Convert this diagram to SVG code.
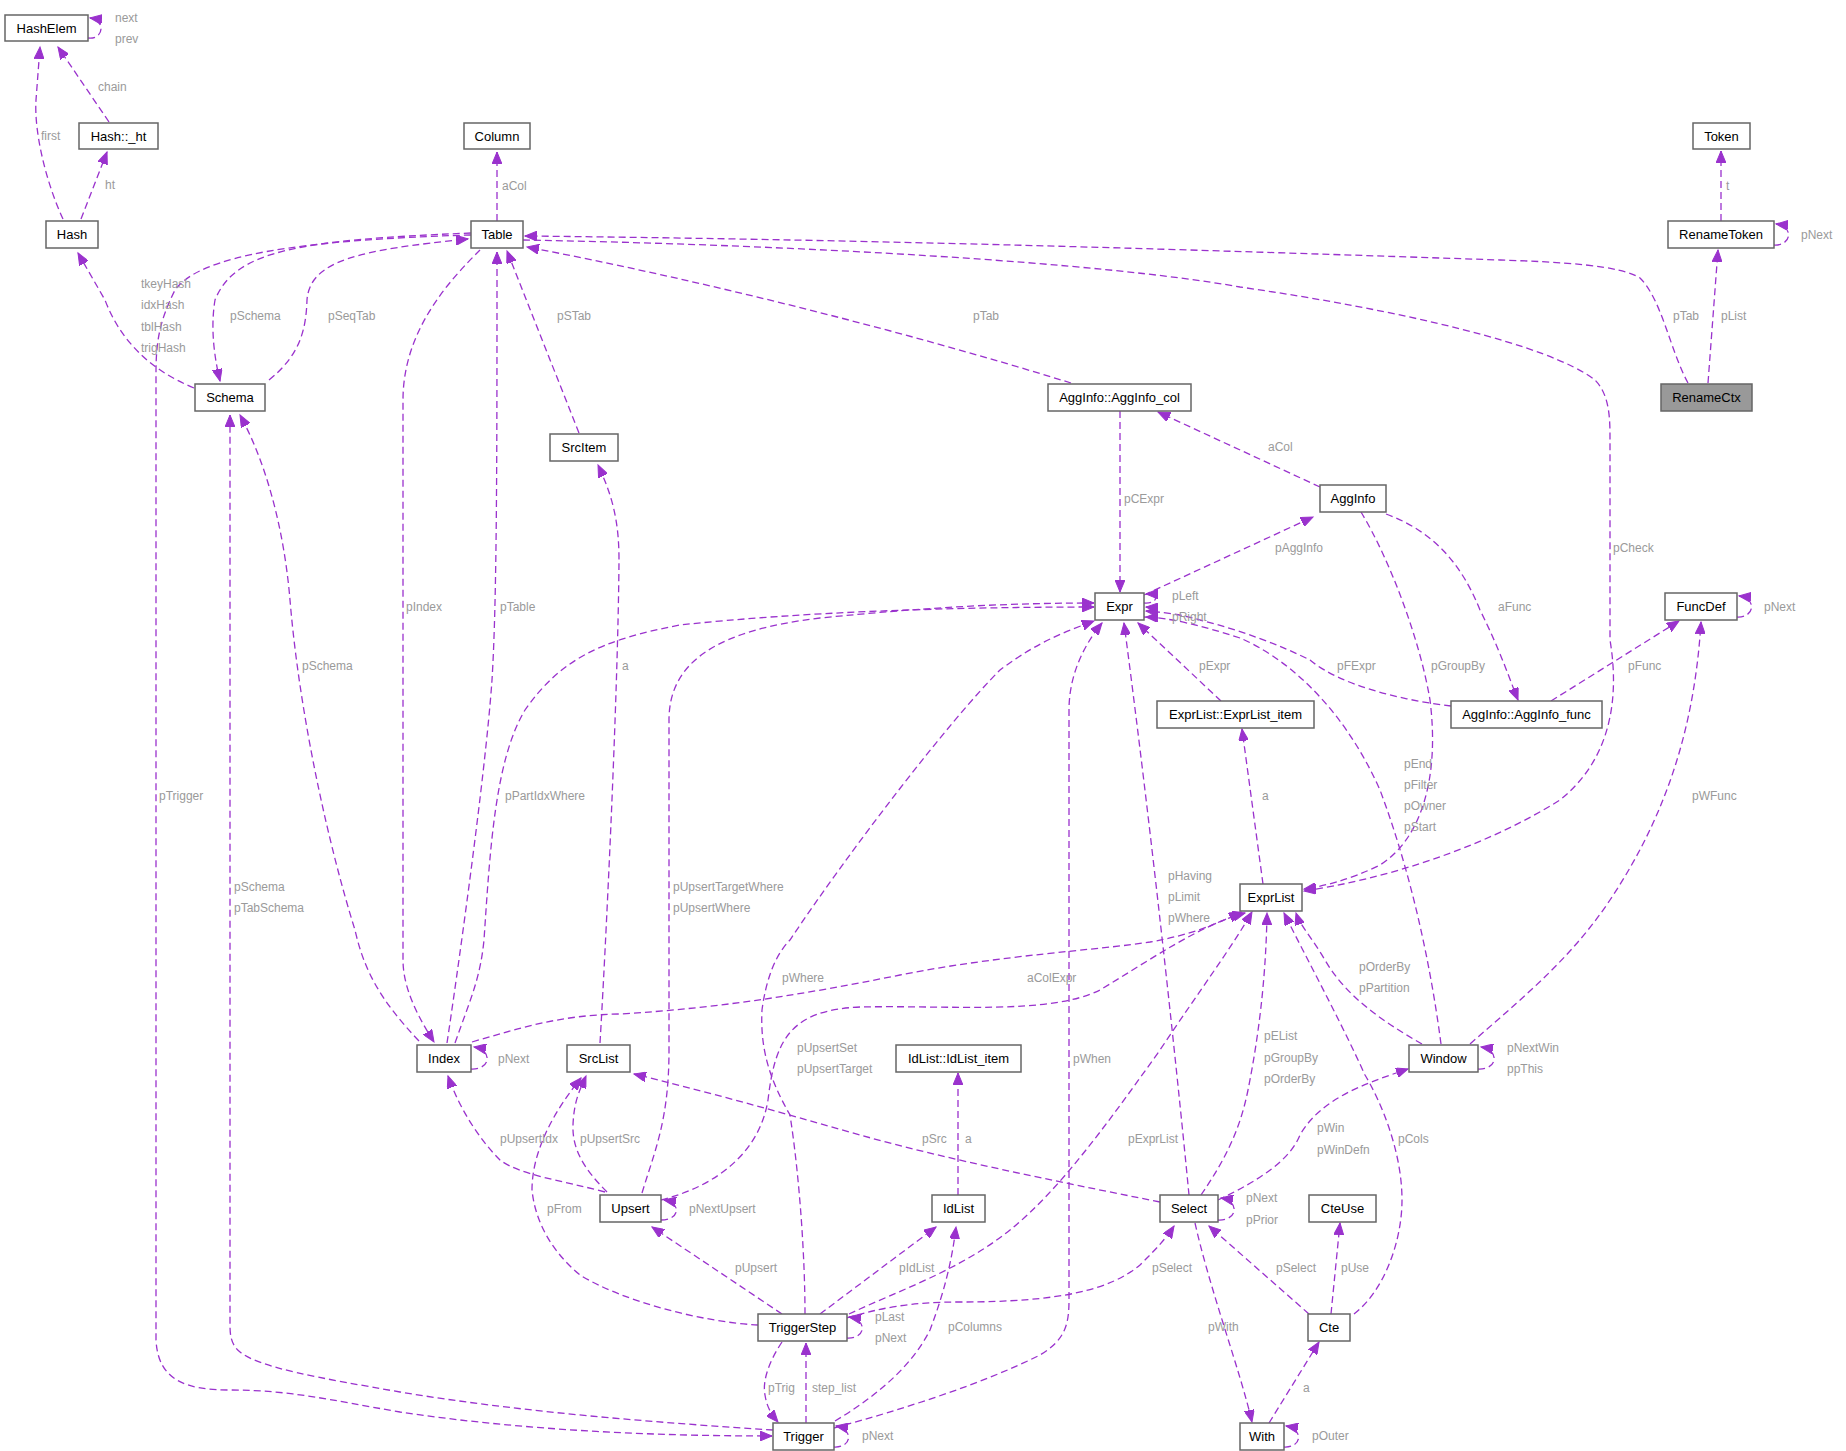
<svg xmlns="http://www.w3.org/2000/svg" width="1846" height="1451" viewBox="0 0 1846 1451">
<style>
.n rect{fill:#fff;stroke:#666;stroke-width:1.5}
.n text{font-family:"Liberation Sans",Arial,sans-serif;font-size:13px;fill:#000;text-anchor:middle}
.e path{fill:none;stroke:#9a32cd;stroke-width:1.3;stroke-dasharray:7,4;marker-end:url(#ah)}
.l text{font-family:"Liberation Sans",Arial,sans-serif;font-size:12px;fill:#9a9a9a}
</style>
<defs><marker id="ah" markerUnits="userSpaceOnUse" markerWidth="14" markerHeight="10" refX="12" refY="5" orient="auto"><path d="M0,0 L12,5 L0,10 z" fill="#9a32cd" stroke="#9a32cd"/></marker></defs>
<rect width="1846" height="1451" fill="#fff"/>
<g class="e" id="edges">
<path d="M88,38 C104,40 106,20 90,18"/>
<path d="M109,122 L58,47"/>
<path d="M63,219 C45,180 34,130 36,100 L40,47"/>
<path d="M81,219 L107,152"/>
<path d="M497,221 L497,152"/>
<path d="M194,388 C150,370 120,340 105,300 L78,253"/>
<path d="M269,380 C300,355 306,330 307,300 C310,260 360,250 468,239"/>
<path d="M471,233 C300,240 235,250 215,300 C210,330 215,360 220,381"/>
<path d="M471,235 C300,240 200,255 175,290 C160,320 156,340 156,373 L156,1340 C158,1380 185,1390 230,1390 C290,1390 330,1400 400,1412 C520,1430 650,1436 772,1436"/>
<path d="M773,1430 C650,1422 520,1412 400,1392 C320,1378 260,1368 240,1352 C231,1345 230,1335 230,1325 L230,415"/>
<path d="M419,1041 C380,1000 364,970 355,930 C330,850 300,720 290,600 C285,540 270,470 240,415"/>
<path d="M480,250 C450,280 403,330 403,400 L403,960 C403,990 420,1020 434,1042"/>
<path d="M447,1043 C455,990 485,780 492,680 C497,600 497,450 497,252"/>
<path d="M455,1043 C470,1000 480,980 484,940 C490,850 495,760 525,710 C560,660 600,640 680,625 C800,612 950,607 1094,607"/>
<path d="M600,1043 C605,960 618,700 619,560 C619,520 612,495 598,465"/>
<path d="M642,1193 C655,1150 669,1120 669,1050 L669,720 C669,660 720,630 820,618 C920,608 1000,603 1094,603"/>
<path d="M605,1192 C560,1180 520,1175 500,1160 C480,1140 460,1110 448,1076"/>
<path d="M607,1192 C585,1170 572,1150 573,1125 C574,1100 580,1090 586,1076"/>
<path d="M758,1325 C700,1322 620,1300 580,1275 C550,1250 535,1220 532,1190 C532,1150 555,1110 581,1078"/>
<path d="M1160,1202 C1050,1180 950,1160 860,1135 C780,1112 700,1090 634,1074"/>
<path d="M958,1195 L958,1073"/>
<path d="M820,1314 L936,1227"/>
<path d="M782,1314 L652,1227"/>
<path d="M847,1318 C880,1308 910,1302 960,1302 C1060,1302 1110,1290 1140,1265 C1155,1250 1165,1240 1174,1226"/>
<path d="M849,1314 C900,1290 960,1270 1010,1230 C1060,1190 1110,1120 1160,1050 C1200,990 1230,950 1252,912"/>
<path d="M805,1314 C805,1260 800,1180 790,1115 C770,1080 760,1050 762,1010 C766,980 775,955 790,940 C850,850 950,720 1000,670 C1040,640 1070,630 1094,621"/>
<path d="M661,1200 C720,1185 760,1150 768,1100 C775,1040 790,1010 860,1007 C950,1005 1050,1015 1100,990 C1150,960 1200,925 1245,913"/>
<path d="M472,1042 C520,1028 560,1015 620,1014 C720,1008 800,995 900,975 C1000,955 1100,950 1150,942 C1190,935 1215,925 1241,912"/>
<path d="M834,1428 C900,1410 980,1385 1040,1355 C1065,1340 1069,1325 1069,1300 L1069,710 C1069,680 1080,650 1102,623"/>
<path d="M835,1421 C870,1400 910,1370 930,1330 C945,1290 952,1260 956,1227"/>
<path d="M782,1342 C770,1360 762,1380 765,1395 C767,1408 772,1415 778,1422"/>
<path d="M806,1423 L806,1343"/>
<path d="M1195,1223 C1210,1290 1240,1370 1252,1422"/>
<path d="M1269,1423 L1319,1342"/>
<path d="M1331,1314 L1340,1223"/>
<path d="M1309,1314 L1209,1226"/>
<path d="M1354,1314 C1385,1290 1402,1240 1402,1200 C1402,1150 1380,1100 1365,1075 C1340,1020 1310,965 1284,913"/>
<path d="M1201,1195 C1225,1160 1240,1130 1248,1090 C1258,1040 1266,980 1267,913"/>
<path d="M1189,1195 C1175,1050 1150,820 1124,623"/>
<path d="M1218,1200 C1260,1180 1290,1160 1300,1135 C1320,1100 1360,1085 1408,1069"/>
<path d="M1422,1044 C1380,1020 1345,995 1325,960 C1310,935 1300,925 1296,913"/>
<path d="M1441,1044 C1430,960 1410,870 1380,790 C1340,700 1280,655 1240,638 C1200,625 1170,618 1146,617"/>
<path d="M1470,1044 C1520,1000 1570,960 1610,900 C1670,810 1695,720 1701,622"/>
<path d="M1551,701 L1679,621"/>
<path d="M1386,514 C1430,530 1460,560 1480,610 C1500,650 1510,680 1518,700"/>
<path d="M1451,706 C1400,700 1340,685 1310,660 C1280,645 1240,630 1200,620 C1180,614 1160,612 1146,611"/>
<path d="M1361,512 C1390,560 1420,640 1430,700 C1440,780 1420,840 1380,865 C1350,880 1320,887 1304,889"/>
<path d="M523,240 C800,245 1100,262 1240,287 C1400,310 1550,345 1595,380 C1610,395 1610,420 1610,440 L1610,640 C1620,700 1610,760 1560,800 C1480,850 1380,880 1304,891"/>
<path d="M1688,383 C1670,350 1662,300 1640,278 C1620,265 1560,262 1500,260 C1200,250 900,240 525,236"/>
<path d="M1071,383 C900,330 700,280 527,247"/>
<path d="M1120,411 L1120,592"/>
<path d="M1320,487 L1158,412"/>
<path d="M1144,595 L1313,517"/>
<path d="M1221,701 L1138,623"/>
<path d="M1263,884 L1242,729"/>
<path d="M579,433 L507,251"/>
<path d="M1721,221 L1721,151"/>
<path d="M1708,383 L1718,250"/>
<path d="M1774,245 C1792,246 1794,226 1776,224"/>
<path d="M1144,603 C1158,604 1160,594 1146,594"/>
<path d="M1144,617 C1158,618 1160,608 1146,607"/>
<path d="M1737,617 C1755,618 1757,598 1739,596"/>
<path d="M471,1069 C491,1070 493,1050 474,1047"/>
<path d="M1478,1069 C1498,1070 1500,1050 1481,1047"/>
<path d="M661,1220 C680,1220 682,1203 664,1200"/>
<path d="M1218,1220 C1238,1221 1240,1201 1221,1198"/>
<path d="M847,1338 C866,1339 868,1320 849,1317"/>
<path d="M834,1447 C852,1448 854,1429 836,1426"/>
<path d="M1284,1447 C1302,1448 1304,1429 1286,1426"/>
</g>
<g class="l" id="labels">
<text x="115" y="22">next</text><text x="115" y="43">prev</text><text x="98" y="91">chain</text><text x="41" y="140">first</text><text x="105" y="189">ht</text><text x="502" y="190">aCol</text>
<text x="141" y="288">tkeyHash</text><text x="141" y="309">idxHash</text><text x="141" y="331">tblHash</text><text x="141" y="352">trigHash</text>
<text x="230" y="320">pSchema</text><text x="328" y="320">pSeqTab</text><text x="557" y="320">pSTab</text><text x="973" y="320">pTab</text><text x="1673" y="320">pTab</text><text x="1721" y="320">pList</text><text x="1726" y="190">t</text><text x="1801" y="239">pNext</text>
<text x="406" y="611">pIndex</text><text x="500" y="611">pTable</text><text x="159" y="800">pTrigger</text><text x="302" y="670">pSchema</text><text x="505" y="800">pPartIdxWhere</text><text x="234" y="891">pSchema</text><text x="234" y="912">pTabSchema</text><text x="622" y="670">a</text>
<text x="1124" y="503">pCExpr</text><text x="1268" y="451">aCol</text><text x="1275" y="552">pAggInfo</text><text x="1613" y="552">pCheck</text><text x="1498" y="611">aFunc</text><text x="1764" y="611">pNext</text>
<text x="1172" y="600">pLeft</text><text x="1172" y="621">pRight</text><text x="1199" y="670">pExpr</text><text x="1337" y="670">pFExpr</text><text x="1431" y="670">pGroupBy</text><text x="1628" y="670">pFunc</text>
<text x="1404" y="768">pEnd</text><text x="1404" y="789">pFilter</text><text x="1404" y="810">pOwner</text><text x="1404" y="831">pStart</text><text x="1692" y="800">pWFunc</text><text x="1262" y="800">a</text>
<text x="673" y="891">pUpsertTargetWhere</text><text x="673" y="912">pUpsertWhere</text><text x="1168" y="880">pHaving</text><text x="1168" y="901">pLimit</text><text x="1168" y="922">pWhere</text>
<text x="782" y="982">pWhere</text><text x="1027" y="982">aColExpr</text><text x="1359" y="971">pOrderBy</text><text x="1359" y="992">pPartition</text>
<text x="1264" y="1040">pEList</text><text x="1264" y="1062">pGroupBy</text><text x="1264" y="1083">pOrderBy</text><text x="1507" y="1052">pNextWin</text><text x="1507" y="1073">ppThis</text>
<text x="1073" y="1063">pWhen</text><text x="498" y="1063">pNext</text><text x="797" y="1052">pUpsertSet</text><text x="797" y="1073">pUpsertTarget</text>
<text x="500" y="1143">pUpsertIdx</text><text x="580" y="1143">pUpsertSrc</text><text x="922" y="1143">pSrc</text><text x="965" y="1143">a</text><text x="1128" y="1143">pExprList</text><text x="1317" y="1132">pWin</text><text x="1317" y="1154">pWinDefn</text><text x="1398" y="1143">pCols</text>
<text x="1246" y="1202">pNext</text><text x="1246" y="1224">pPrior</text><text x="547" y="1213">pFrom</text><text x="689" y="1213">pNextUpsert</text>
<text x="735" y="1272">pUpsert</text><text x="899" y="1272">pIdList</text><text x="1152" y="1272">pSelect</text><text x="1276" y="1272">pSelect</text><text x="1341" y="1272">pUse</text>
<text x="875" y="1321">pLast</text><text x="875" y="1342">pNext</text><text x="948" y="1331">pColumns</text><text x="1208" y="1331">pWith</text>
<text x="768" y="1392">pTrig</text><text x="812" y="1392">step_list</text><text x="1303" y="1392">a</text><text x="862" y="1440">pNext</text><text x="1312" y="1440">pOuter</text>
</g>
<g class="n" id="HashElem"><rect x="5" y="15" width="83" height="26"/><text x="46.5" y="33">HashElem</text></g>
<g class="n" id="Hash_ht"><rect x="79" y="123" width="79" height="26"/><text x="118.5" y="141">Hash::_ht</text></g>
<g class="n" id="Column"><rect x="464" y="123" width="66" height="26"/><text x="497" y="141">Column</text></g>
<g class="n" id="Token"><rect x="1693" y="123" width="57" height="26"/><text x="1721.5" y="141">Token</text></g>
<g class="n" id="Hash"><rect x="46" y="221" width="52" height="27"/><text x="72" y="239">Hash</text></g>
<g class="n" id="Table"><rect x="471" y="221" width="52" height="27"/><text x="497" y="239">Table</text></g>
<g class="n" id="RenameToken"><rect x="1668" y="221" width="106" height="27"/><text x="1721" y="239">RenameToken</text></g>
<g class="n" id="Schema"><rect x="195" y="384" width="70" height="27"/><text x="230" y="402">Schema</text></g>
<g class="n" id="AggInfo_col"><rect x="1048" y="384" width="143" height="27"/><text x="1119.5" y="402">AggInfo::AggInfo_col</text></g>
<g class="n" id="RenameCtx"><rect x="1661" y="384" width="91" height="27" style="fill:#999"/><text x="1706.5" y="402">RenameCtx</text></g>
<g class="n" id="SrcItem"><rect x="550" y="434" width="68" height="27"/><text x="584" y="452">SrcItem</text></g>
<g class="n" id="AggInfo"><rect x="1320" y="485" width="66" height="27"/><text x="1353" y="503">AggInfo</text></g>
<g class="n" id="Expr"><rect x="1095" y="593" width="49" height="27"/><text x="1119.5" y="611">Expr</text></g>
<g class="n" id="FuncDef"><rect x="1665" y="593" width="72" height="27"/><text x="1701" y="611">FuncDef</text></g>
<g class="n" id="ExprList_item"><rect x="1157" y="701" width="157" height="27"/><text x="1235.5" y="719">ExprList::ExprList_item</text></g>
<g class="n" id="AggInfo_func"><rect x="1451" y="701" width="151" height="27"/><text x="1526.5" y="719">AggInfo::AggInfo_func</text></g>
<g class="n" id="ExprList"><rect x="1240" y="884" width="62" height="27"/><text x="1271" y="902">ExprList</text></g>
<g class="n" id="Index"><rect x="417" y="1045" width="54" height="27"/><text x="444" y="1063">Index</text></g>
<g class="n" id="SrcList"><rect x="567" y="1045" width="63" height="27"/><text x="598.5" y="1063">SrcList</text></g>
<g class="n" id="IdList_item"><rect x="896" y="1045" width="125" height="27"/><text x="958.5" y="1063">IdList::IdList_item</text></g>
<g class="n" id="Window"><rect x="1409" y="1045" width="69" height="27"/><text x="1443.5" y="1063">Window</text></g>
<g class="n" id="Upsert"><rect x="600" y="1195" width="61" height="27"/><text x="630.5" y="1213">Upsert</text></g>
<g class="n" id="IdList"><rect x="932" y="1195" width="53" height="27"/><text x="958.5" y="1213">IdList</text></g>
<g class="n" id="Select"><rect x="1160" y="1195" width="58" height="27"/><text x="1189" y="1213">Select</text></g>
<g class="n" id="CteUse"><rect x="1309" y="1195" width="67" height="27"/><text x="1342.5" y="1213">CteUse</text></g>
<g class="n" id="TriggerStep"><rect x="758" y="1314" width="89" height="27"/><text x="802.5" y="1332">TriggerStep</text></g>
<g class="n" id="Cte"><rect x="1308" y="1314" width="42" height="27"/><text x="1329" y="1332">Cte</text></g>
<g class="n" id="Trigger"><rect x="773" y="1423" width="61" height="27"/><text x="803.5" y="1441">Trigger</text></g>
<g class="n" id="With"><rect x="1240" y="1423" width="44" height="27"/><text x="1262" y="1441">With</text></g>
</svg>
